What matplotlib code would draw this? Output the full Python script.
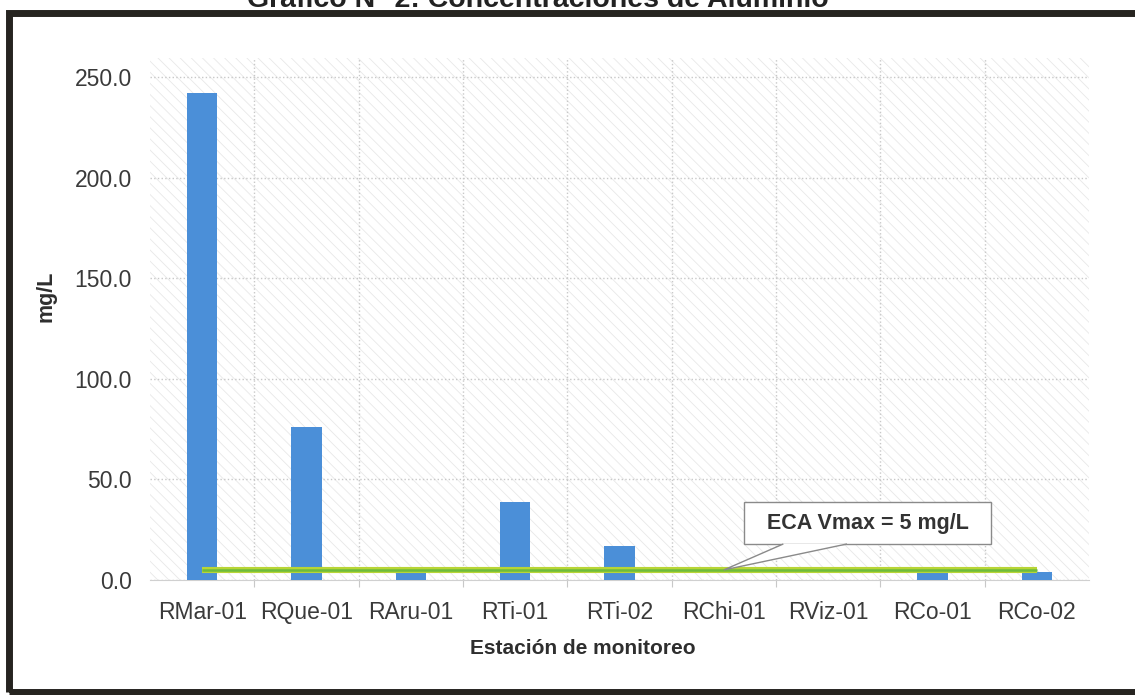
import matplotlib
matplotlib.use("Agg")
import matplotlib.pyplot as plt
from matplotlib.patches import Rectangle, Polygon

plt.rcParams['font.family'] = ['Liberation Sans', 'DejaVu Sans']
plt.rcParams['hatch.linewidth'] = 0.6

# Data
estaciones = ['RMar-01', 'RQue-01', 'RAru-01', 'RTi-01', 'RTi-02',
              'RChi-01', 'RViz-01', 'RCo-01', 'RCo-02']
aluminio = [242.0, 76.0, 3.5, 39.0, 17.0, 0.0, 0.0, 3.5, 4.0]
eca_vmax = [5, 5, 5, 5, 5, 5, 5, 5, 5]
yticks = [0, 50, 100, 150, 200, 250]

fig = plt.figure(figsize=(11.35, 6.95), dpi=100)
ax = fig.add_axes([0.1322, 0.1655, 0.8273, 0.751])

x = list(range(len(estaciones)))

# textured plot area
ax.add_patch(Rectangle((0, 0), 1, 1, transform=ax.transAxes, facecolor='none',
                       edgecolor='#e8e8e8', hatch='\\\\\\', lw=0, zorder=0))

ax.bar(x, aluminio, width=0.29, color='#4b8fd8', zorder=3)
ax.plot(x, eca_vmax, color='#b8d536', lw=4.4, solid_capstyle='butt', zorder=4)
ax.plot(x, eca_vmax, color='#6dbb3c', lw=1.8, solid_capstyle='butt', zorder=5)

ax.set_xlim(-0.5, 8.5)
ax.set_ylim(0, 259.4)
ax.set_yticks(yticks)
ax.set_yticklabels([f'{v:.1f}' for v in yticks])
ax.set_xticks(x)
ax.set_xticklabels(estaciones)
ax.set_xticks([i + 0.5 for i in x[:-1]], minor=True)

ax.tick_params(axis='both', which='major', length=0, labelsize=16.5,
               labelcolor='#3a3a3a')
ax.tick_params(axis='y', pad=13)
ax.tick_params(axis='x', pad=15)
ax.tick_params(axis='x', which='minor', length=5, color='#c8c8c8', width=0.8)

ax.grid(axis='y', color='#c8c8c8', linestyle=':', linewidth=1.0, zorder=1)
ax.grid(axis='x', which='minor', color='#c8c8c8', linestyle=':', linewidth=1.0, zorder=1)
for s in ['top', 'right', 'left']:
    ax.spines[s].set_visible(False)
ax.spines['bottom'].set_color('#d0d0d0')

ax.set_xlabel('Estación de monitoreo', fontsize=15, fontweight='bold',
              color='#2e2e2e')
ax.xaxis.set_label_coords(0.461, -0.113)
ax.set_ylabel('mg/L', fontsize=15.5, fontweight='bold', color='#2e2e2e')
ax.yaxis.set_label_coords(-0.100, 0.544)

# callout box with pointer to the ECA line
ax.text(6.38, 28.3, '  ECA Vmax = 5 mg/L  ', ha='center', va='center',
        fontsize=15.5, fontweight='bold', color='#333333', zorder=6,
        bbox=dict(boxstyle='square,pad=0.5', fc='white', ec='#8a8a8a', lw=1))
ax.add_patch(Polygon([(5.57, 17.9), (5.0, eca_vmax[5]), (6.18, 17.9)], closed=False,
                     facecolor='white', edgecolor='#8a8a8a', lw=1, zorder=7))

# page frame and cut-off title
fig.patches.append(Rectangle((0.0075, 0.005), 1.05, 0.976, transform=fig.transFigure,
                             fill=False, edgecolor='#262420', lw=5))
fig.text(0.474, 0.990, 'Gráfico N° 2: Concentraciones de Aluminio', ha='center',
         va='baseline', fontsize=20.5, fontweight='bold', color='#222222')

fig.savefig('out.png', dpi=100)
